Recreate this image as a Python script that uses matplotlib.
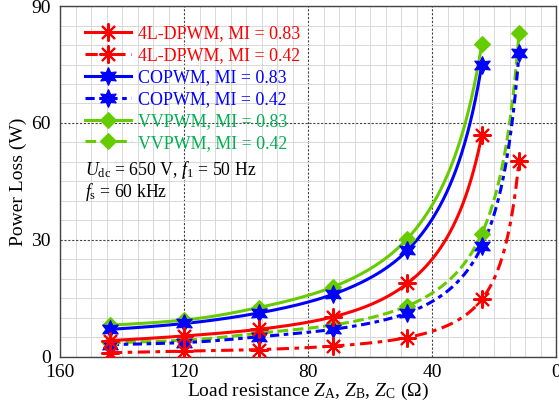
import numpy as np
import matplotlib
matplotlib.use('Agg')
from matplotlib import pyplot as plt
from matplotlib.ticker import MultipleLocator
from matplotlib.transforms import ScaledTranslation

# Load resistance (ohm) and measured power loss (W)
z_hi = [144, 120, 96, 72, 48, 24]
z_lo = [144, 120, 96, 72, 48, 24, 12]

dpwm_083 = [4.1, 5.3, 7.0, 10.2, 18.8, 56.8]
dpwm_042 = [1.0, 1.4, 1.8, 2.7, 4.9, 14.7, 50.2]
copwm_083 = [7.0, 8.5, 11.2, 16.0, 27.3, 75.0]
copwm_042 = [3.1, 3.6, 5.1, 7.0, 11.2, 28.3, 77.9]
vvpwm_083 = [8.1, 9.4, 12.6, 17.9, 30.3, 80.3]
vvpwm_042 = [3.6, 4.2, 6.0, 8.1, 13.0, 31.6, 83.0]

labels = ['4L-DPWM, MI = 0.83', '4L-DPWM, MI = 0.42',
          'COPWM, MI = 0.83', 'COPWM, MI = 0.42',
          'VVPWM, MI = 0.83', 'VVPWM, MI = 0.42']

plt.rcParams['font.family'] = ['Liberation Serif', 'DejaVu Serif']
plt.rcParams['mathtext.fontset'] = 'custom'
plt.rcParams['mathtext.rm'] = 'Liberation Serif'
plt.rcParams['mathtext.it'] = 'Liberation Serif:italic'


def pchip(x, y, xs):
    """Monotone cubic Hermite curve through (x, y), evaluated at xs."""
    x = np.asarray(x, float)
    y = np.asarray(y, float)
    order = np.argsort(x)
    x, y = x[order], y[order]
    h = np.diff(x)
    delta = np.diff(y) / h
    d = np.zeros_like(y)
    for k in range(1, len(x) - 1):
        if delta[k - 1] * delta[k] > 0:
            w1 = 2 * h[k] + h[k - 1]
            w2 = h[k] + 2 * h[k - 1]
            d[k] = (w1 + w2) / (w1 / delta[k - 1] + w2 / delta[k])
    for end, (h0, h1, d0, d1) in ((0, (h[0], h[1], delta[0], delta[1])),
                                  (-1, (h[-1], h[-2], delta[-1], delta[-2]))):
        s = ((2 * h0 + h1) * d0 - h0 * d1) / (h0 + h1)
        if np.sign(s) != np.sign(d0):
            s = 0.0
        elif np.sign(d0) != np.sign(d1) and abs(s) > abs(3 * d0):
            s = 3 * d0
        d[end] = s
    idx = np.clip(np.searchsorted(x, xs) - 1, 0, len(x) - 2)
    t = (xs - x[idx]) / h[idx]
    h00 = 2 * t**3 - 3 * t**2 + 1
    h10 = t**3 - 2 * t**2 + t
    h01 = -2 * t**3 + 3 * t**2
    h11 = t**3 - t**2
    return (h00 * y[idx] + h10 * h[idx] * d[idx]
            + h01 * y[idx + 1] + h11 * h[idx] * d[idx + 1])


def smooth(z, p, n=400):
    # curve drawn against conductance 1/Z, so it follows the hyperbolic trend
    g = 1.0 / np.asarray(z, float)
    gs = np.linspace(g.min(), g.max(), n)
    return 1.0 / gs, pchip(g, p, gs)


red = '#ff0000'
blue = '#0000ff'
green = '#66cc00'
green_text = '#00b050'

asterisk = (8, 2, 0)
hexagram = (6, 1, 0)

series = [
    (z_hi, dpwm_083, red, '-', asterisk, 13, labels[0]),
    (z_lo, dpwm_042, red, (0, (4, 1.8, 1.5, 1.8)), asterisk, 13, labels[1]),
    (z_hi, copwm_083, blue, '-', hexagram, 13, labels[2]),
    (z_lo, copwm_042, blue, (0, (3, 1.5, 1.5, 1.5)), hexagram, 13, labels[3]),
    (z_hi, vvpwm_083, green, '-', 'D', 8, labels[4]),
    (z_lo, vvpwm_042, green, (0, (3.5, 1.5)), 'D', 8, labels[5]),
]
text_colors = [red, red, blue, blue, green_text, green_text]

fig = plt.figure(figsize=(5.59, 4.08), dpi=100)
ax = fig.add_axes([0.108, 0.126, 0.887, 0.859])

handles = [None] * len(series)
for i in reversed(range(len(series))):
    z, p, color, ls, marker, ms, label = series[i]
    mew = 1.5 if marker == asterisk else 0.8
    zs, ps = smooth(z, p)
    ax.plot(zs, ps, color=color, linestyle=ls, linewidth=2.2,
            zorder=3 + (len(series) - i) * 0.1)
    ax.plot(z, p, linestyle='none', marker=marker, markersize=ms, color=color,
            markeredgecolor=color, markeredgewidth=mew,
            zorder=3.5 + (len(series) - i) * 0.1)
    handles[i] = plt.Line2D([], [], color=color, linestyle=ls, linewidth=2.2,
                            marker=marker, markersize=ms, markeredgecolor=color,
                            markeredgewidth=mew, label=label)

ax.set_xlim(160, 0)
ax.set_ylim(0, 90)
ax.xaxis.set_major_locator(MultipleLocator(40))
ax.yaxis.set_major_locator(MultipleLocator(30))
ax.xaxis.set_minor_locator(MultipleLocator(5))
ax.yaxis.set_minor_locator(MultipleLocator(5))

ax.grid(which='minor', color='#d8d8d8', linewidth=0.7, linestyle='-')
ax.grid(which='major', color='#444444', linewidth=0.8, linestyle=(0, (2, 1.5)))
ax.set_axisbelow(True)

ax.tick_params(which='both', direction='in', length=0, labelsize=14)
ax.tick_params(axis='x', pad=5)
ax.tick_params(axis='y', pad=7)
for spine in ax.spines.values():
    spine.set_color('#444444')
    spine.set_linewidth(1.0)

# nudge the bottom "0" label up a little
fig.canvas.draw()
zero_label = ax.get_yticklabels()[0]
zero_label.set_transform(zero_label.get_transform()
                         + ScaledTranslation(0, 5 / 72, fig.dpi_scale_trans))

ax.set_xlabel(r'Load resistance $Z_\mathrm{A}$, $Z_\mathrm{B}$, $Z_\mathrm{C}$ ($\Omega$)',
              fontsize=14, labelpad=0)
ax.set_ylabel('Power Loss (W)', fontsize=14, labelpad=3)

leg = ax.legend(handles=handles, loc='upper left', bbox_to_anchor=(0.035, 0.965),
                frameon=False, fontsize=12.9, handlelength=2.6, handletextpad=0.35,
                labelspacing=0.27, borderaxespad=0, numpoints=1)
for txt, c in zip(leg.get_texts(), text_colors):
    txt.set_color(c)

ax.text(0.05, 0.532, r'$U_\mathrm{dc}$ = 650 V, $f_\mathrm{1}$ = 50 Hz',
        transform=ax.transAxes, fontsize=12.8, va='center')
ax.text(0.05, 0.469, r'$f_\mathrm{s}$ = 60 kHz',
        transform=ax.transAxes, fontsize=12.8, va='center')

fig.savefig('out.png', dpi=100)
